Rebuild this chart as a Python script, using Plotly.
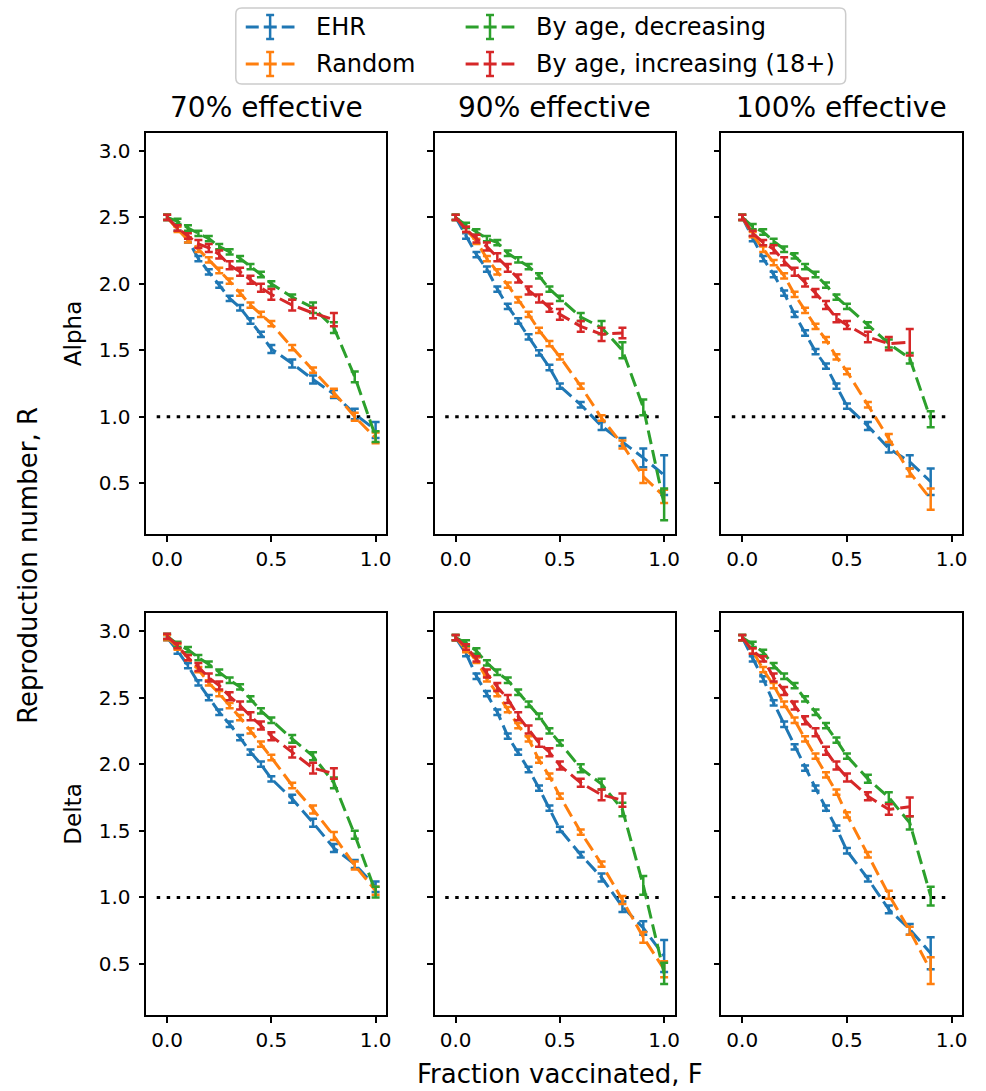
import plotly.graph_objects as go

# ---------------- data ----------------
F_STEPS = [0.0, 0.05, 0.1, 0.15, 0.2, 0.25, 0.3, 0.35, 0.4, 0.45, 0.5, 0.6, 0.7, 0.8, 0.9, 1.0]
STRATEGIES = ["EHR", "Random", "By age, decreasing", "By age, increasing (18+)"]
EFFICACY_TITLES = ["70% effective", "90% effective", "100% effective"]
VARIANTS = ["Alpha", "Delta"]
X_TICKS = [0.0, 0.5, 1.0]
X_TICK_LABELS = ["0.0", "0.5", "1.0"]
Y_TICKS = [0.5, 1.0, 1.5, 2.0, 2.5, 3.0]
Y_TICK_LABELS = ["0.5", "1.0", "1.5", "2.0", "2.5", "3.0"]
THRESHOLD_R = 1.0
THRESHOLD_X = [-0.05, 1.0]

# Alpha, 70% effective
alpha70_ehr = [2.50, 2.42, 2.33, 2.19, 2.09, 1.99, 1.89, 1.82, 1.72, 1.62, 1.51, 1.40, 1.28, 1.17, 1.02, 0.90]
alpha70_ehr_err = [0.02, 0.02, 0.02, 0.02, 0.02, 0.02, 0.02, 0.02, 0.02, 0.02, 0.03, 0.03, 0.03, 0.03, 0.04, 0.06]
alpha70_rand = [2.50, 2.41, 2.33, 2.26, 2.18, 2.10, 2.02, 1.93, 1.84, 1.77, 1.70, 1.52, 1.35, 1.18, 1.00, 0.84]
alpha70_rand_err = [0.02, 0.02, 0.02, 0.02, 0.02, 0.02, 0.02, 0.02, 0.02, 0.02, 0.02, 0.02, 0.02, 0.03, 0.03, 0.04]
alpha70_dec = [2.50, 2.47, 2.42, 2.38, 2.34, 2.28, 2.24, 2.19, 2.13, 2.07, 2.00, 1.90, 1.82, 1.67, 1.30, 0.85]
alpha70_dec_err = [0.02, 0.02, 0.02, 0.02, 0.02, 0.02, 0.02, 0.02, 0.02, 0.02, 0.02, 0.02, 0.04, 0.04, 0.04, 0.04]
alpha70_inc = [2.50, 2.42, 2.36, 2.30, 2.27, 2.22, 2.14, 2.09, 2.03, 1.97, 1.92, 1.84, 1.78, 1.73]
alpha70_inc_err = [0.02, 0.02, 0.02, 0.03, 0.03, 0.03, 0.03, 0.03, 0.03, 0.03, 0.04, 0.04, 0.04, 0.05]

# Alpha, 90% effective
alpha90_ehr = [2.50, 2.36, 2.22, 2.11, 1.96, 1.83, 1.72, 1.60, 1.48, 1.37, 1.23, 1.09, 0.93, 0.81, 0.69, 0.56]
alpha90_ehr_err = [0.02, 0.02, 0.02, 0.02, 0.02, 0.02, 0.02, 0.02, 0.02, 0.02, 0.02, 0.02, 0.03, 0.03, 0.07, 0.15]
alpha90_rand = [2.50, 2.41, 2.32, 2.19, 2.09, 1.99, 1.88, 1.77, 1.65, 1.55, 1.45, 1.23, 0.99, 0.79, 0.55, 0.40]
alpha90_rand_err = [0.02, 0.02, 0.02, 0.02, 0.02, 0.02, 0.02, 0.02, 0.02, 0.02, 0.02, 0.02, 0.02, 0.03, 0.05, 0.05]
alpha90_dec = [2.50, 2.44, 2.39, 2.34, 2.31, 2.23, 2.18, 2.13, 2.06, 1.96, 1.89, 1.75, 1.67, 1.50, 1.07, 0.34]
alpha90_dec_err = [0.02, 0.02, 0.02, 0.02, 0.02, 0.02, 0.02, 0.02, 0.02, 0.02, 0.02, 0.03, 0.05, 0.06, 0.06, 0.12]
alpha90_inc = [2.50, 2.41, 2.34, 2.28, 2.20, 2.12, 2.04, 1.95, 1.89, 1.82, 1.77, 1.68, 1.62, 1.63]
alpha90_inc_err = [0.02, 0.02, 0.03, 0.03, 0.03, 0.03, 0.03, 0.03, 0.03, 0.03, 0.04, 0.04, 0.05, 0.04]

# Alpha, 100% effective
alpha100_ehr = [2.50, 2.34, 2.19, 2.07, 1.93, 1.77, 1.63, 1.49, 1.38, 1.23, 1.08, 0.93, 0.76, 0.66, 0.51]
alpha100_ehr_err = [0.02, 0.02, 0.02, 0.02, 0.02, 0.02, 0.02, 0.02, 0.02, 0.02, 0.02, 0.03, 0.03, 0.05, 0.10]
alpha100_rand = [2.50, 2.37, 2.26, 2.16, 2.06, 1.92, 1.80, 1.68, 1.58, 1.45, 1.34, 1.09, 0.84, 0.58, 0.38]
alpha100_rand_err = [0.02, 0.02, 0.02, 0.02, 0.02, 0.02, 0.02, 0.02, 0.02, 0.02, 0.02, 0.02, 0.03, 0.03, 0.08]
alpha100_dec = [2.50, 2.43, 2.39, 2.32, 2.26, 2.21, 2.13, 2.07, 1.99, 1.90, 1.83, 1.69, 1.55, 1.44, 0.98]
alpha100_dec_err = [0.02, 0.02, 0.02, 0.02, 0.02, 0.02, 0.02, 0.02, 0.02, 0.02, 0.02, 0.02, 0.03, 0.04, 0.06]
alpha100_inc = [2.50, 2.38, 2.31, 2.26, 2.17, 2.09, 2.01, 1.93, 1.84, 1.74, 1.69, 1.60, 1.55, 1.56]
alpha100_inc_err = [0.02, 0.02, 0.02, 0.03, 0.03, 0.03, 0.03, 0.03, 0.03, 0.03, 0.03, 0.04, 0.05, 0.10]

# Delta, 70% effective
delta70_ehr = [2.95, 2.85, 2.74, 2.61, 2.50, 2.39, 2.30, 2.20, 2.09, 2.00, 1.89, 1.74, 1.56, 1.37, 1.25, 1.08]
delta70_ehr_err = [0.02, 0.02, 0.02, 0.02, 0.02, 0.02, 0.02, 0.02, 0.02, 0.02, 0.02, 0.03, 0.03, 0.03, 0.03, 0.04]
delta70_rand = [2.95, 2.88, 2.80, 2.71, 2.61, 2.53, 2.44, 2.35, 2.25, 2.15, 2.05, 1.84, 1.66, 1.46, 1.24, 1.05]
delta70_rand_err = [0.02, 0.02, 0.02, 0.02, 0.02, 0.02, 0.02, 0.02, 0.02, 0.02, 0.02, 0.02, 0.03, 0.03, 0.03, 0.03]
delta70_dec = [2.96, 2.90, 2.86, 2.80, 2.75, 2.69, 2.63, 2.58, 2.49, 2.40, 2.33, 2.19, 2.06, 1.86, 1.47, 1.04]
delta70_dec_err = [0.02, 0.02, 0.02, 0.02, 0.02, 0.02, 0.02, 0.02, 0.02, 0.02, 0.02, 0.03, 0.03, 0.04, 0.03, 0.04]
delta70_inc = [2.96, 2.89, 2.80, 2.73, 2.65, 2.59, 2.51, 2.44, 2.36, 2.29, 2.21, 2.09, 1.97, 1.93]
delta70_inc_err = [0.02, 0.02, 0.02, 0.03, 0.03, 0.03, 0.03, 0.03, 0.03, 0.03, 0.03, 0.04, 0.04, 0.04]

# Delta, 90% effective
delta90_ehr = [2.95, 2.83, 2.66, 2.53, 2.39, 2.21, 2.09, 1.96, 1.82, 1.67, 1.51, 1.32, 1.15, 0.93, 0.77, 0.56]
delta90_ehr_err = [0.02, 0.02, 0.02, 0.02, 0.02, 0.02, 0.02, 0.02, 0.02, 0.02, 0.02, 0.02, 0.03, 0.04, 0.05, 0.12]
delta90_rand = [2.95, 2.86, 2.78, 2.64, 2.53, 2.41, 2.29, 2.19, 2.03, 1.91, 1.76, 1.49, 1.25, 0.98, 0.70, 0.46]
delta90_rand_err = [0.02, 0.02, 0.02, 0.02, 0.02, 0.02, 0.02, 0.02, 0.02, 0.02, 0.02, 0.02, 0.02, 0.03, 0.04, 0.06]
delta90_dec = [2.95, 2.91, 2.85, 2.76, 2.69, 2.63, 2.54, 2.45, 2.36, 2.25, 2.16, 1.97, 1.85, 1.66, 1.09, 0.43]
delta90_dec_err = [0.02, 0.02, 0.02, 0.02, 0.02, 0.02, 0.02, 0.02, 0.02, 0.02, 0.02, 0.03, 0.04, 0.05, 0.07, 0.08]
delta90_inc = [2.95, 2.88, 2.79, 2.68, 2.58, 2.49, 2.36, 2.26, 2.16, 2.09, 1.99, 1.86, 1.77, 1.73]
delta90_inc_err = [0.02, 0.02, 0.02, 0.03, 0.03, 0.03, 0.03, 0.03, 0.03, 0.03, 0.03, 0.03, 0.04, 0.05]

# Delta, 100% effective
delta100_ehr = [2.95, 2.79, 2.64, 2.46, 2.30, 2.13, 1.97, 1.82, 1.67, 1.52, 1.35, 1.14, 0.91, 0.76, 0.58]
delta100_ehr_err = [0.02, 0.02, 0.02, 0.02, 0.02, 0.02, 0.02, 0.02, 0.02, 0.02, 0.02, 0.02, 0.03, 0.04, 0.12]
delta100_rand = [2.95, 2.85, 2.71, 2.59, 2.45, 2.33, 2.19, 2.06, 1.92, 1.79, 1.62, 1.32, 1.02, 0.75, 0.45]
delta100_rand_err = [0.02, 0.02, 0.02, 0.02, 0.02, 0.02, 0.02, 0.02, 0.02, 0.02, 0.02, 0.02, 0.03, 0.03, 0.10]
delta100_dec = [2.95, 2.90, 2.84, 2.74, 2.66, 2.59, 2.49, 2.39, 2.29, 2.18, 2.06, 1.89, 1.75, 1.56, 1.01]
delta100_dec_err = [0.02, 0.02, 0.02, 0.02, 0.02, 0.02, 0.02, 0.02, 0.02, 0.02, 0.02, 0.03, 0.04, 0.05, 0.07]
delta100_inc = [2.95, 2.85, 2.79, 2.65, 2.55, 2.44, 2.33, 2.24, 2.10, 1.99, 1.90, 1.76, 1.66, 1.68]
delta100_inc_err = [0.02, 0.02, 0.02, 0.03, 0.03, 0.03, 0.03, 0.03, 0.03, 0.03, 0.03, 0.03, 0.04, 0.07]

PANELS = [
    [  # Alpha row
        [(alpha70_ehr, alpha70_ehr_err), (alpha70_rand, alpha70_rand_err), (alpha70_dec, alpha70_dec_err), (alpha70_inc, alpha70_inc_err)],
        [(alpha90_ehr, alpha90_ehr_err), (alpha90_rand, alpha90_rand_err), (alpha90_dec, alpha90_dec_err), (alpha90_inc, alpha90_inc_err)],
        [(alpha100_ehr, alpha100_ehr_err), (alpha100_rand, alpha100_rand_err), (alpha100_dec, alpha100_dec_err), (alpha100_inc, alpha100_inc_err)],
    ],
    [  # Delta row
        [(delta70_ehr, delta70_ehr_err), (delta70_rand, delta70_rand_err), (delta70_dec, delta70_dec_err), (delta70_inc, delta70_inc_err)],
        [(delta90_ehr, delta90_ehr_err), (delta90_rand, delta90_rand_err), (delta90_dec, delta90_dec_err), (delta90_inc, delta90_inc_err)],
        [(delta100_ehr, delta100_ehr_err), (delta100_rand, delta100_rand_err), (delta100_dec, delta100_dec_err), (delta100_inc, delta100_inc_err)],
    ],
]

# ---------------- style / layout ----------------
W, H = 986, 1091
COLORS = ["#1f77b4", "#ff7f0e", "#2ca02c", "#d62728"]
FONT = "DejaVu Sans"
COL_PX = [(147, 388), (437, 678), (725, 967)]
ROW_PX = [(133, 534), (613, 1015)]
X_RANGE = [-0.1, 1.05]
Y_RANGE = [0.117, 3.135]
DASH = "14px,6px"


def px_x(x):
    return x / W


def px_y(y):
    return 1 - y / H


fig = go.Figure()
layout = dict(
    width=W, height=H,
    margin=dict(l=0, r=0, t=0, b=0),
    paper_bgcolor="white", plot_bgcolor="white",
    showlegend=False,
    font=dict(family=FONT, color="black"),
)

axis_common = dict(
    showline=True, mirror=True, linecolor="black", linewidth=1.5,
    ticks="outside", ticklen=6, tickwidth=1.5, tickcolor="black",
    showgrid=False, zeroline=False,
    tickfont=dict(family=FONT, size=20, color="black"),
)

idx = 0
for r in range(2):
    for c in range(3):
        idx += 1
        sfx = "" if idx == 1 else str(idx)
        xa = dict(axis_common, domain=[px_x(COL_PX[c][0]), px_x(COL_PX[c][1])],
                  range=X_RANGE, tickvals=X_TICKS, ticktext=X_TICK_LABELS,
                  anchor="y" + sfx)
        ya = dict(axis_common, domain=[px_y(ROW_PX[r][1]), px_y(ROW_PX[r][0])],
                  range=Y_RANGE, tickvals=Y_TICKS, ticktext=Y_TICK_LABELS,
                  showticklabels=(c == 0), ticklabelstandoff=4, anchor="x" + sfx)
        layout["xaxis" + sfx] = xa
        layout["yaxis" + sfx] = ya

        # threshold line R = 1
        fig.add_trace(go.Scatter(
            x=THRESHOLD_X, y=[THRESHOLD_R, THRESHOLD_R], mode="lines",
            line=dict(color="black", width=3, dash="3.5px,6.5px"),
            xaxis="x" + sfx, yaxis="y" + sfx, hoverinfo="skip"))

        for s, (vals, errs) in enumerate(PANELS[r][c]):
            fig.add_trace(go.Scatter(
                x=F_STEPS[:len(vals)], y=vals, mode="lines",
                name=STRATEGIES[s],
                line=dict(color=COLORS[s], width=3, dash=DASH),
                error_y=dict(type="data", array=errs, visible=True,
                             color=COLORS[s], thickness=2.5, width=4),
                xaxis="x" + sfx, yaxis="y" + sfx))

annotations = []
shapes = []

# column titles
for c, t in enumerate(EFFICACY_TITLES):
    annotations.append(dict(
        text=t, xref="paper", yref="paper",
        x=px_x((COL_PX[c][0] + COL_PX[c][1]) / 2), y=px_y(108),
        xanchor="center", yanchor="middle", showarrow=False,
        font=dict(family=FONT, size=28, color="black")))

# row labels
for r, v in enumerate(VARIANTS):
    annotations.append(dict(
        text=v, xref="paper", yref="paper",
        x=px_x(73), y=px_y((ROW_PX[r][0] + ROW_PX[r][1]) / 2),
        xanchor="center", yanchor="middle", textangle=-90, showarrow=False,
        font=dict(family=FONT, size=23, color="black")))

# shared axis labels
annotations.append(dict(
    text="Reproduction number, R", xref="paper", yref="paper",
    x=px_x(28), y=px_y(565), xanchor="center", yanchor="middle",
    textangle=-90, showarrow=False, font=dict(family=FONT, size=26, color="black")))
annotations.append(dict(
    text="Fraction vaccinated, F", xref="paper", yref="paper",
    x=px_x(563), y=px_y(1074), xanchor="center", yanchor="middle",
    showarrow=False, font=dict(family=FONT, size=26, color="black")))

# ---------------- manual legend ----------------
LX0, LY0, LX1, LY1, RAD = 237, 8, 850, 84, 6
path = (
    f"M {px_x(LX0 + RAD)} {px_y(LY0)} L {px_x(LX1 - RAD)} {px_y(LY0)} "
    f"Q {px_x(LX1)} {px_y(LY0)} {px_x(LX1)} {px_y(LY0 + RAD)} "
    f"L {px_x(LX1)} {px_y(LY1 - RAD)} Q {px_x(LX1)} {px_y(LY1)} {px_x(LX1 - RAD)} {px_y(LY1)} "
    f"L {px_x(LX0 + RAD)} {px_y(LY1)} Q {px_x(LX0)} {px_y(LY1)} {px_x(LX0)} {px_y(LY1 - RAD)} "
    f"L {px_x(LX0)} {px_y(LY0 + RAD)} Q {px_x(LX0)} {px_y(LY0)} {px_x(LX0 + RAD)} {px_y(LY0)} Z"
)
shapes.append(dict(type="path", path=path, xref="paper", yref="paper",
                   line=dict(color="#cccccc", width=1.5), fillcolor="white", layer="above"))

LEG_COLS = [(247, 296, 316), (468, 517, 537)]
LEG_ROWS = [27, 64]
legend_slots = [(0, 0), (0, 1), (1, 0), (1, 1)]  # (col, row) for EHR, Random, Dec, Inc
for s, (lc, lr) in enumerate(legend_slots):
    x0, x1, xt = LEG_COLS[lc]
    yy = LEG_ROWS[lr]
    xm = (x0 + x1) / 2
    shapes.append(dict(type="line", xref="paper", yref="paper",
                       x0=px_x(x0), x1=px_x(x1), y0=px_y(yy), y1=px_y(yy),
                       line=dict(color=COLORS[s], width=3, dash="13px,5px"), layer="above"))
    shapes.append(dict(type="line", xref="paper", yref="paper",
                       x0=px_x(xm), x1=px_x(xm), y0=px_y(yy - 12), y1=px_y(yy + 12),
                       line=dict(color=COLORS[s], width=2.5), layer="above"))
    for cy in (yy - 12, yy + 12):
        shapes.append(dict(type="line", xref="paper", yref="paper",
                           x0=px_x(xm - 4), x1=px_x(xm + 4), y0=px_y(cy), y1=px_y(cy),
                           line=dict(color=COLORS[s], width=2.5), layer="above"))
    annotations.append(dict(
        text=STRATEGIES[s], xref="paper", yref="paper",
        x=px_x(xt), y=px_y(yy), xanchor="left", yanchor="middle", showarrow=False,
        font=dict(family=FONT, size=24, color="black")))

layout["annotations"] = annotations
layout["shapes"] = shapes
fig.update_layout(**layout)

fig.write_html("out.html")
